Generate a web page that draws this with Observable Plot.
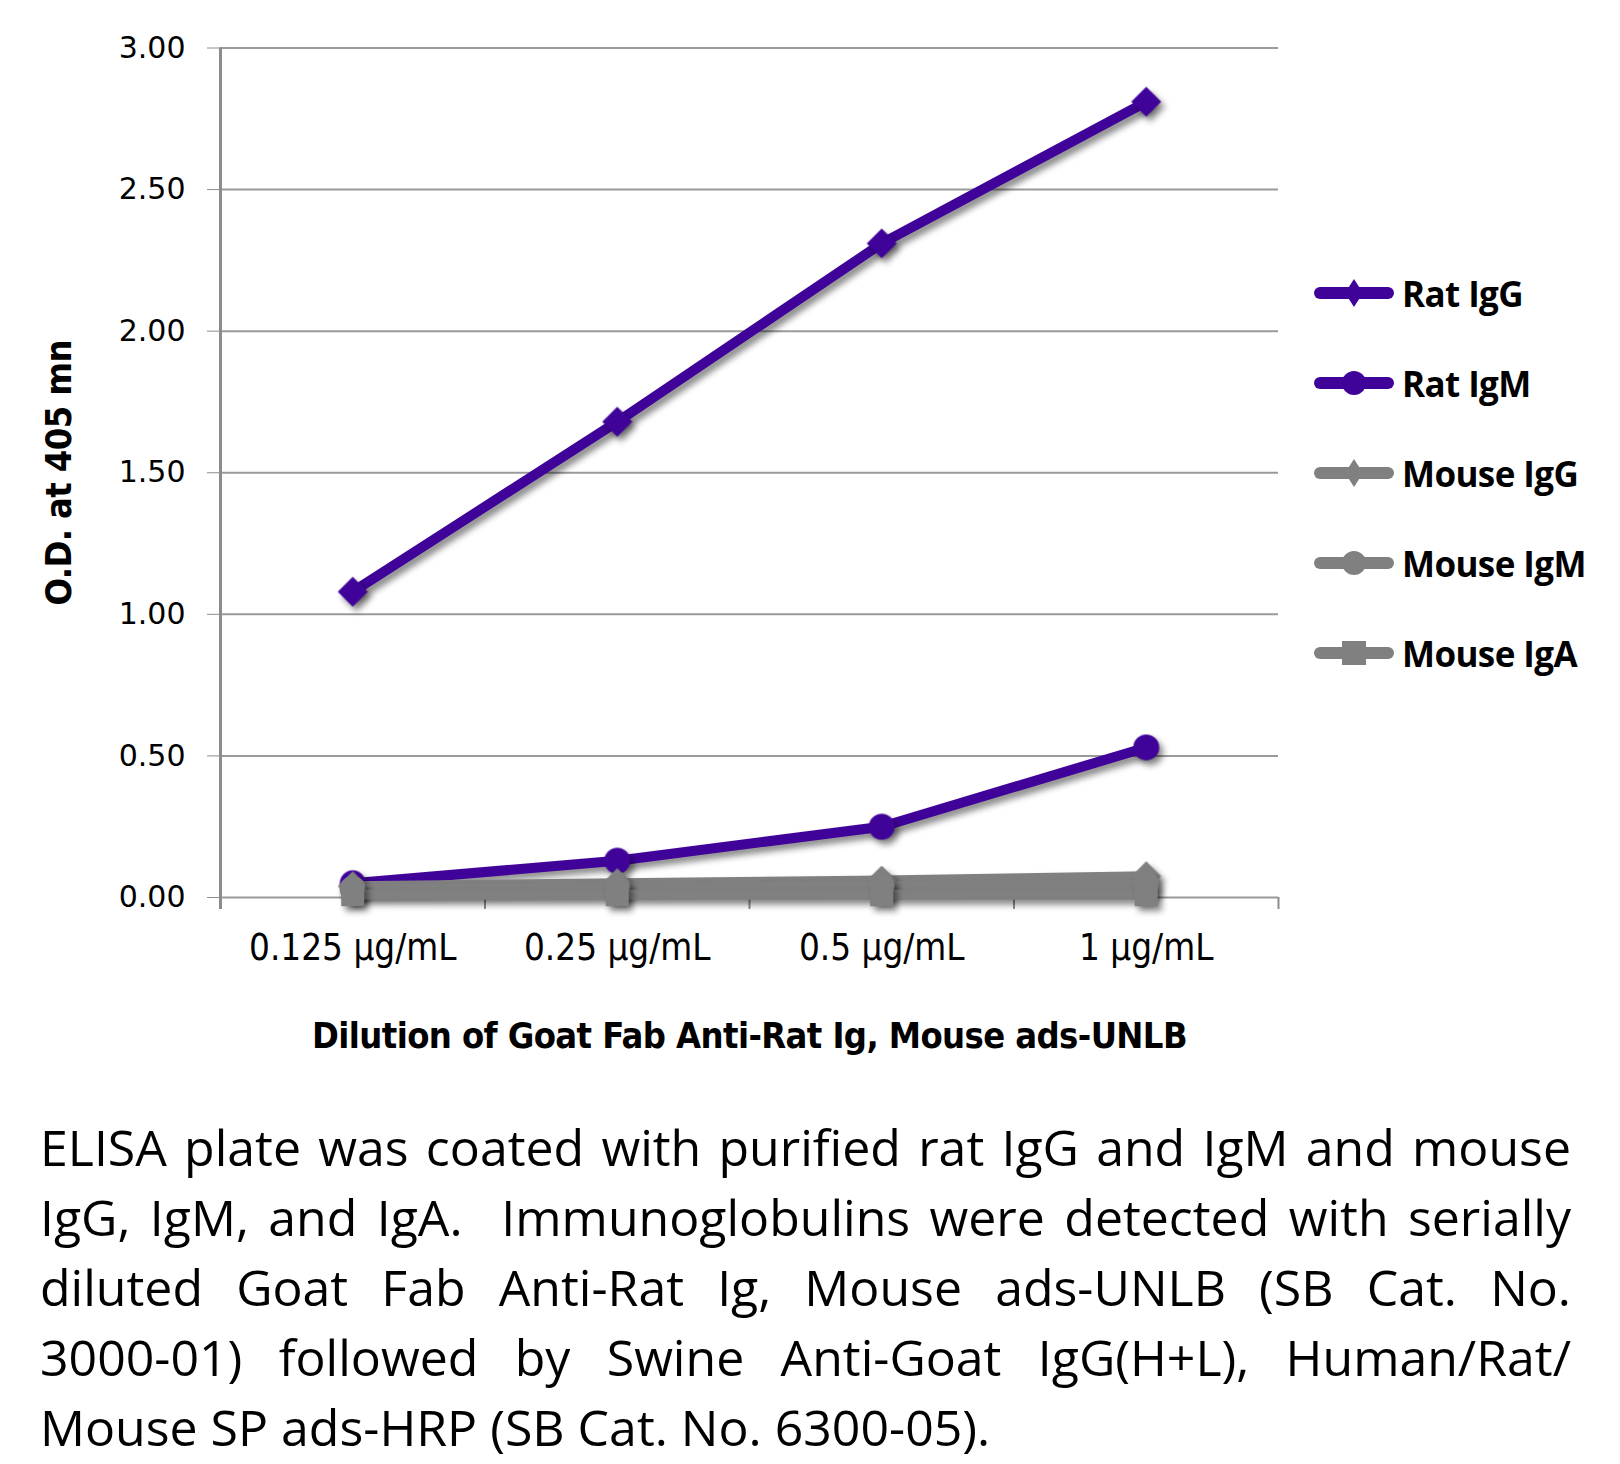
<!DOCTYPE html>
<html>
<head>
<meta charset="utf-8">
<script src="https://cdn.jsdelivr.net/npm/d3@7"></script>
<script src="https://cdn.jsdelivr.net/npm/@observablehq/plot@0.6"></script>
<style>
  html, body { margin: 0; padding: 0; background: #fff; }
  #wrap { position: relative; width: 1620px; height: 1464px; overflow: hidden; }
  #chart { position: absolute; left: 0; top: 0; }
  #chart svg g[aria-label="line"], #chart svg g[aria-label="dot"] {
    filter: drop-shadow(4px 5px 3px rgba(0,0,0,0.45));
  }
  #legend { position: absolute; left: 1314px; top: 0; }
  .item { position: absolute; left: 0; height: 50px; display: flex; align-items: center; white-space: nowrap;
          font-family: "Open Sans", sans-serif; font-weight: 700; font-size: 35px; color: #000; letter-spacing: -0.6px; }
  .item svg { margin-right: 8px; }
  #caption { position: absolute; left: 40px; top: 1112px; width: 1531px;
             font-family: "Open Sans", sans-serif; font-size: 50px; line-height: 70px; color: #000; }
  #caption div { text-align: justify; text-align-last: justify; white-space: nowrap; }
  #caption div.last { text-align-last: left; }
</style>
</head>
<body>
<div id="wrap">
  <div id="chart"></div>
  <div id="legend"></div>
  <div id="caption"></div>
</div>
<script>
// ---- data ----
const concentrations = ["0.125 µg/mL", "0.25 µg/mL", "0.5 µg/mL", "1 µg/mL"];
const seriesNames = ["Rat IgG", "Rat IgM", "Mouse IgG", "Mouse IgM", "Mouse IgA"];
const ratIgG   = [1.08, 1.68, 2.31, 2.81];
const ratIgM   = [0.05, 0.13, 0.25, 0.53];
const mouseIgG = [0.04, 0.05, 0.06, 0.075];
const mouseIgM = [0.03, 0.035, 0.04, 0.045];
const mouseIgA = [0.01, 0.01, 0.01, 0.01];
const seriesColors  = ["#40039a", "#40039a", "#808080", "#808080", "#808080"];
const seriesSymbols = ["diamond2", "circle", "diamond2", "circle", "square"];
const yTicks = [0, 0.5, 1, 1.5, 2, 2.5, 3];
const yLabel = "O.D. at 405 mn";
const xLabel = "Dilution of Goat Fab Anti-Rat Ig, Mouse ads-UNLB";
const captionLines = [
  "ELISA plate was coated with purified rat IgG and IgM and mouse",
  "IgG, IgM, and IgA.\u00a0 Immunoglobulins were detected with serially",
  "diluted Goat Fab Anti-Rat Ig, Mouse ads-UNLB (SB Cat. No.",
  "3000-01) followed by Swine Anti-Goat IgG(H+L), Human/Rat/",
  "Mouse SP ads-HRP (SB Cat. No. 6300-05)."
];

const allValues = [ratIgG, ratIgM, mouseIgG, mouseIgM, mouseIgA];
const rows = [];
seriesNames.forEach((s, si) => {
  concentrations.forEach((c, ci) => rows.push({series: s, conc: c, i: ci, value: allValues[si][ci]}));
});
const symbolSize = {diamond2: 13.5, circle: 13, square: 13};
const condensed = "'DejaVu Sans Condensed', 'DejaVu Sans', sans-serif";

const marks = [
  Plot.gridY(yTicks, {stroke: "#9a9a9a", strokeOpacity: 1, strokeWidth: 2}),
  Plot.axisY(yTicks, {tickFormat: d3.format(".2f"), tickSize: 13, tickPadding: 22, stroke: "#8c8c8c",
    fontSize: 30, fontFamily: "DejaVu Sans", label: yLabel, labelAnchor: "center", labelArrow: "none", labelOffset: 175}),
  Plot.axisX(concentrations.map((c, i) => i), {tickFormat: i => concentrations[i], tickSize: 0, tickPadding: 37,
    fontSize: 36.5, fontFamily: condensed, label: xLabel, labelAnchor: "center", labelArrow: "none", labelOffset: 150}),
  Plot.axisX(d3.range(-0.5, concentrations.length, 1), {tickFormat: () => "", tickSize: 12, stroke: "#8c8c8c",
    strokeWidth: 2, label: null}),
  Plot.ruleX([-0.5], {stroke: "#8c8c8c", strokeWidth: 3, insetBottom: -12}),
];
seriesNames.forEach((s, si) => {
  const data = rows.filter(r => r.series === s);
  marks.push(Plot.line(data, {x: "i", y: "value", stroke: seriesColors[si], strokeWidth: 10, strokeLinecap: "round", strokeLinejoin: "round"}));
  marks.push(Plot.dot(data, {x: "i", y: "value", symbol: () => seriesSymbols[si], fill: seriesColors[si], stroke: "none",
    r: symbolSize[seriesSymbols[si]]}));
});

const chart = Plot.plot({
  width: 1620,
  height: 1075,
  marginTop: 47.5,
  marginBottom: 178,
  marginLeft: 220,
  marginRight: 342,
  style: {fontFamily: condensed, color: "#000", background: "#fff"},
  x: {type: "linear", domain: [-0.5, concentrations.length - 0.5], label: xLabel},
  y: {domain: [0, 3], label: yLabel},
  symbol: {type: "identity"},
  marks
});
document.getElementById("chart").appendChild(chart);

// style axis titles
chart.querySelectorAll('g[aria-label="y-axis label"] text, g[aria-label="x-axis label"] text').forEach(t => {
  t.setAttribute("font-weight", "700");
  t.setAttribute("font-size", "36");
  t.setAttribute("font-family", condensed);
  t.style.letterSpacing = "-0.6px";
});

// legend
const legend = document.getElementById("legend");
seriesNames.forEach((s, si) => {
  const item = document.createElement("div");
  item.className = "item";
  item.style.top = (268 + si * 90) + "px";
  const sym = seriesSymbols[si];
  const c = seriesColors[si];
  let m = "";
  if (sym === "diamond2") m = `<path d="M40,11 L49,25 L40,39 L31,25 Z" fill="${c}"/>`;
  if (sym === "circle") m = `<circle cx="40" cy="25" r="12" fill="${c}"/>`;
  if (sym === "square") m = `<rect x="28" y="13" width="24" height="24" fill="${c}"/>`;
  item.innerHTML = `<svg width="80" height="50"><line x1="6" y1="25" x2="74" y2="25" stroke="${c}" stroke-width="12" stroke-linecap="round"/>${m}</svg><span>${s}</span>`;
  legend.appendChild(item);
});

// caption
const cap = document.getElementById("caption");
captionLines.forEach((l, i) => {
  const d = document.createElement("div");
  d.textContent = l;
  if (i === captionLines.length - 1) d.className = "last";
  cap.appendChild(d);
});
</script>
</body>
</html>
